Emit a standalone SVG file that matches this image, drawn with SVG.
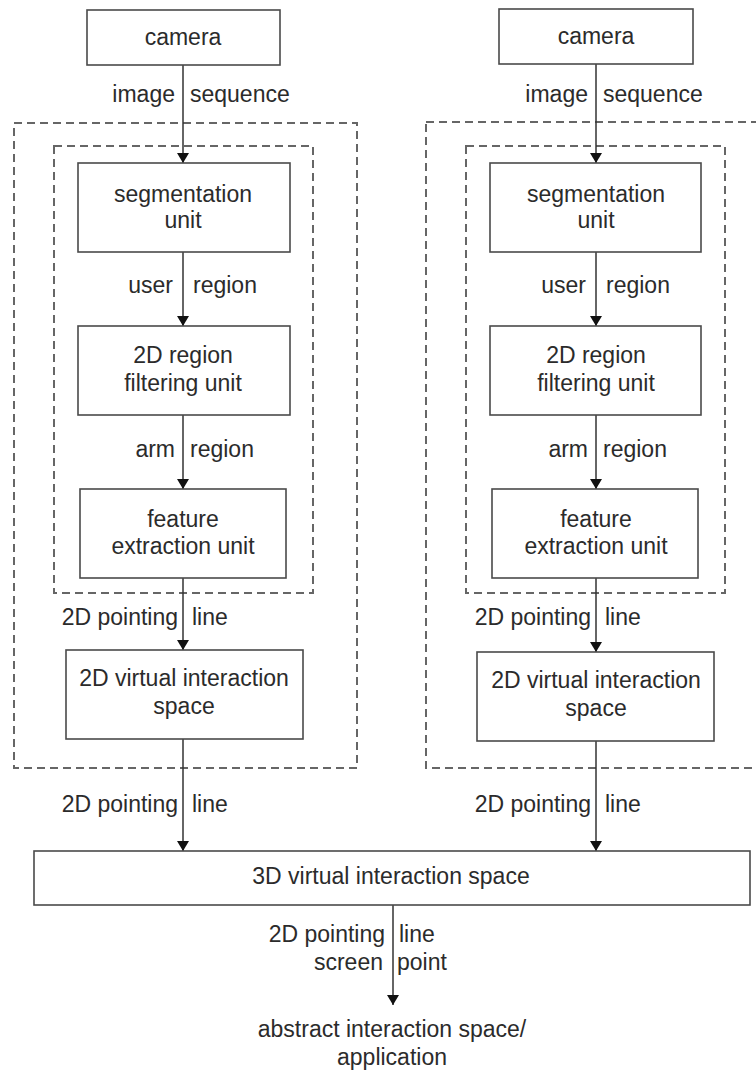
<svg xmlns="http://www.w3.org/2000/svg" width="756" height="1071" viewBox="0 0 756 1071">
<style>
.box{fill:#fff;stroke:#4a4a4a;stroke-width:1.6}
.dash{fill:none;stroke:#666;stroke-width:2;stroke-dasharray:8,5}
.t{font-family:"Liberation Sans",Arial,sans-serif;font-size:23px;fill:#2b2b2b;text-anchor:middle}
.l{font-family:"Liberation Sans",Arial,sans-serif;font-size:23px;fill:#2b2b2b}
.e{text-anchor:end}
.c{fill:none;stroke:#333;stroke-width:1.5;marker-end:url(#ah)}
</style>
<defs>
<marker id="ah" viewBox="0 0 10 12" refX="10" refY="6" markerWidth="10" markerHeight="12" markerUnits="userSpaceOnUse" orient="auto">
<path d="M0,0 L10,6 L0,12 Z" fill="#111"/>
</marker>
</defs>
<rect width="756" height="1071" fill="#fff"/>

<g id="groups">
<rect id="outer-left" class="dash" x="14" y="123" width="343" height="645"/>
<rect id="inner-left" class="dash" x="54" y="146" width="259" height="447"/>
<rect id="outer-right" class="dash" x="426" y="122" width="360" height="646"/>
<rect id="inner-right" class="dash" x="466" y="146" width="259" height="447"/>
</g>

<g id="connectors">
<line class="c" x1="183" y1="65" x2="183" y2="163"/>
<line class="c" x1="183" y1="252" x2="183" y2="326"/>
<line class="c" x1="183" y1="415" x2="183" y2="489"/>
<line class="c" x1="183" y1="578" x2="183" y2="650"/>
<line class="c" x1="183" y1="739" x2="183" y2="851"/>
<line class="c" x1="596" y1="64" x2="596" y2="163"/>
<line class="c" x1="596" y1="252" x2="596" y2="326"/>
<line class="c" x1="596" y1="415" x2="596" y2="489"/>
<line class="c" x1="596" y1="578" x2="596" y2="652"/>
<line class="c" x1="596" y1="741" x2="596" y2="851"/>
<line class="c" x1="393" y1="905" x2="393" y2="1005"/>
<text class="l e" x="175" y="102">image</text><text class="l" x="190" y="102">sequence</text>
<text class="l e" x="173" y="293">user</text><text class="l" x="193" y="293">region</text>
<text class="l e" x="175" y="457">arm</text><text class="l" x="190" y="457">region</text>
<text class="l e" x="178" y="625">2D pointing</text><text class="l" x="192" y="625">line</text>
<text class="l e" x="178" y="812">2D pointing</text><text class="l" x="192" y="812">line</text>
<text class="l e" x="588" y="102">image</text><text class="l" x="603" y="102">sequence</text>
<text class="l e" x="586" y="293">user</text><text class="l" x="606" y="293">region</text>
<text class="l e" x="588" y="457">arm</text><text class="l" x="603" y="457">region</text>
<text class="l e" x="591" y="625">2D pointing</text><text class="l" x="605" y="625">line</text>
<text class="l e" x="591" y="812">2D pointing</text><text class="l" x="605" y="812">line</text>
<text class="l e" x="385" y="942">2D pointing</text><text class="l" x="399" y="942">line</text>
<text class="l e" x="383" y="970">screen</text><text class="l" x="397" y="970">point</text>
</g>

<g id="camera-left"><rect class="box" x="87" y="10" width="193" height="55"/><text class="t" x="183" y="45">camera</text></g>
<g id="segmentation-left"><rect class="box" x="78" y="163" width="212" height="89"/><text class="t" x="183" y="202">segmentation</text><text class="t" x="183" y="228">unit</text></g>
<g id="region-filter-left"><rect class="box" x="78" y="326" width="212" height="89"/><text class="t" x="183" y="363">2D region</text><text class="t" x="183" y="391">filtering unit</text></g>
<g id="feature-left"><rect class="box" x="80" y="489" width="206" height="89"/><text class="t" x="183" y="527">feature</text><text class="t" x="183" y="554">extraction unit</text></g>
<g id="virtual2d-left"><rect class="box" x="66" y="650" width="237" height="89"/><text class="t" x="184" y="686">2D virtual interaction</text><text class="t" x="184" y="714">space</text></g>

<g id="camera-right"><rect class="box" x="499" y="9" width="194" height="55"/><text class="t" x="596" y="44">camera</text></g>
<g id="segmentation-right"><rect class="box" x="490" y="163" width="211" height="89"/><text class="t" x="596" y="202">segmentation</text><text class="t" x="596" y="228">unit</text></g>
<g id="region-filter-right"><rect class="box" x="490" y="326" width="211" height="89"/><text class="t" x="596" y="363">2D region</text><text class="t" x="596" y="391">filtering unit</text></g>
<g id="feature-right"><rect class="box" x="492" y="489" width="206" height="89"/><text class="t" x="596" y="527">feature</text><text class="t" x="596" y="554">extraction unit</text></g>
<g id="virtual2d-right"><rect class="box" x="477" y="652" width="237" height="89"/><text class="t" x="596" y="688">2D virtual interaction</text><text class="t" x="596" y="716">space</text></g>

<g id="virtual3d"><rect class="box" x="34" y="851" width="716" height="54"/><text class="t" x="391" y="884">3D virtual interaction space</text></g>

<g id="application"><text class="t" x="392" y="1037">abstract interaction space/</text><text class="t" x="392" y="1065">application</text></g>
</svg>
